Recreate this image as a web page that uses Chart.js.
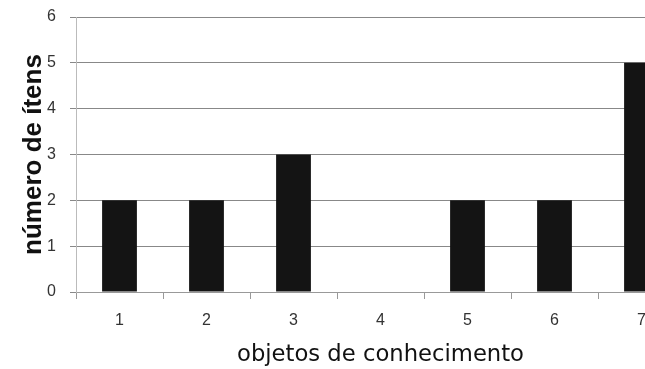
<!DOCTYPE html>
<html>
<head>
<meta charset="utf-8">
<script src="https://cdn.jsdelivr.net/npm/chart.js@4/dist/chart.umd.min.js"></script>
<style>
  html, body { margin: 0; padding: 0; background: #fff; overflow: hidden; width: 645px; height: 369px; }
  #wrap { width: 700px; height: 369px; }
</style>
</head>
<body>
<div id="wrap"><canvas id="chart" width="700" height="369"></canvas></div>
<script>
// data
const categories = ['1', '2', '3', '4', '5', '6', '7'];
const itemCounts = [2, 2, 3, 0, 2, 2, 5];
const yTicks = [0, 1, 2, 3, 4, 5, 6];

const ctx = document.getElementById('chart').getContext('2d');
new Chart(ctx, {
    type: 'bar',
    data: {
        labels: categories,
        datasets: [{
            data: itemCounts,
            backgroundColor: '#141414',
            barPercentage: 0.4,
            categoryPercentage: 1.0
        }]
    },
    options: {
        responsive: false,
        animation: false,
        layout: { padding: { top: 17, right: 15, left: 0, bottom: 0 } },
        plugins: { legend: { display: false }, tooltip: { enabled: false } },
        scales: {
            x: {
                grid: { drawOnChartArea: false, drawTicks: true, tickLength: 7, color: '#999' },
                border: { color: '#999' },
                ticks: { color: '#333', font: { family: 'Liberation Sans', size: 16 }, padding: 12 },
                title: {
                    display: true,
                    text: 'objetos de conhecimento',
                    color: '#111',
                    font: { family: 'DejaVu Sans', size: 22.7 },
                    padding: { top: 0, bottom: 0 }
                },
                afterFit: (scale) => { scale.height = 77; }
            },
            y: {
                min: 0,
                max: 6,
                afterBuildTicks: (scale) => { scale.ticks = yTicks.map(v => ({ value: v })); },
                grid: { color: '#888', tickLength: 6 },
                border: { color: '#bbb' },
                ticks: { color: '#333', font: { family: 'Liberation Sans', size: 16 }, padding: 14 },
                title: {
                    display: true,
                    text: 'número de ítens',
                    color: '#111',
                    font: { family: 'Liberation Sans', size: 26, weight: 'bold' },
                    padding: { top: 18, bottom: 0 }
                },
                afterFit: (scale) => {
                    scale.width = 76;
                    scale.paddingTop = 0;
                    scale.paddingBottom = 0;
                }
            }
        }
    }
});
</script>
</body>
</html>
